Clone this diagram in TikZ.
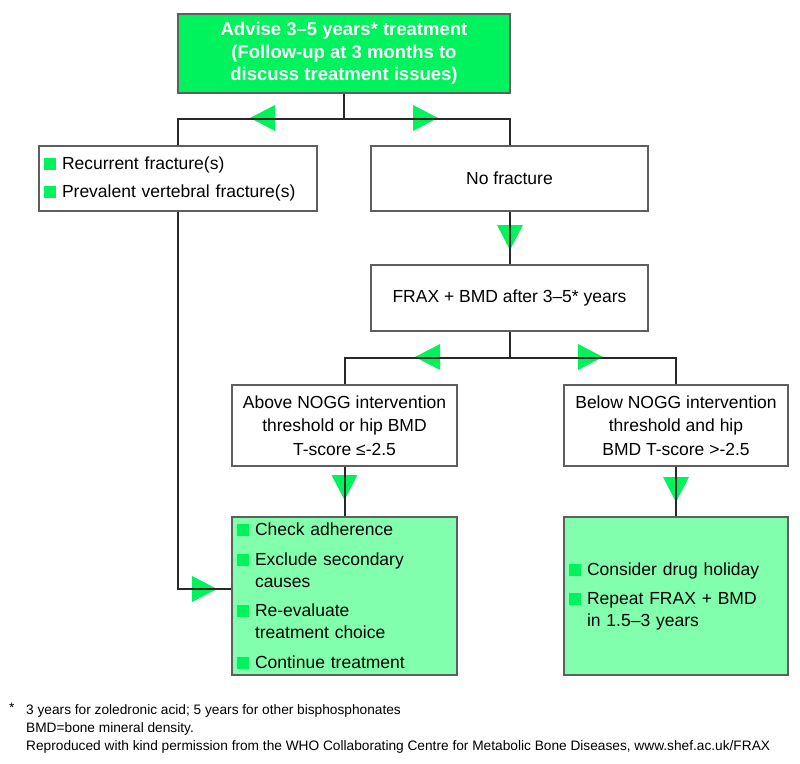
\documentclass[tikz,border=0pt]{standalone}
\usepackage{fontspec}
\setmainfont{Liberation Sans}
\usetikzlibrary{calc}
\definecolor{bgreen}{RGB}{0,242,92}
\definecolor{lgreen}{RGB}{130,255,172}
\definecolor{bordergray}{RGB}{95,95,95}
\definecolor{linegray}{RGB}{40,40,40}
\newcommand{\bsq}{\textcolor{bgreen}{\rule[-0.5pt]{12pt}{12pt}}\hspace{6pt}}
\newcommand{\bind}{\hspace*{18pt}}
\begin{document}
\begin{tikzpicture}[x=1pt,y=-1pt,
  box/.style={draw=bordergray, line width=1.2pt, fill=white, inner sep=0pt, font=\fontsize{17.5}{23.5}\selectfont, align=center},
  topbox/.style={box, fill=bgreen, text=white, font=\fontsize{18.5}{22.5}\selectfont\bfseries},
  listbox/.style={box, align=left, inner xsep=5pt, inner ysep=0pt, font=\fontsize{17.5}{22}\selectfont},
  actbox/.style={listbox, fill=lgreen},
  conn/.style={draw=linegray, line width=2pt},
  tri/.style={fill=bgreen, draw=none},
  foot/.style={inner sep=0pt, anchor=base west, font=\fontsize{13.7}{15}\selectfont}]
\useasboundingbox (0,0) rectangle (800,763);
% boxes
\node[topbox, minimum width=332pt, minimum height=79pt] (top) at (344,53.5)
  {Advise 3–5 years* treatment\\(Follow-up at 3 months to\\discuss treatment issues)};
\node[listbox, text width=268pt, minimum height=65pt] (recur) at (178,178.5)
  {\bsq Recurrent fracture(s)\\[6pt]\bsq Prevalent vertebral fracture(s)};
\node[box, minimum width=277pt, minimum height=65pt] (nofrac) at (509.5,178.5) {No fracture};
\node[box, minimum width=277pt, minimum height=66pt] (frax) at (509.5,298) {FRAX + BMD after 3–5* years};
\node[box, minimum width=225pt, minimum height=81pt] (above) at (344.5,425.5)
  {Above NOGG intervention\\threshold or hip BMD\\T-score ≤-2.5};
\node[box, minimum width=224pt, minimum height=81pt] (below) at (676,425.5)
  {Below NOGG intervention\\threshold and hip\\BMD T-score >-2.5};
\node[actbox, text width=215pt, minimum height=158pt] (act) at (344.5,596)
  {\bsq Check adherence\\[7.5pt]\bsq Exclude secondary\\\bind causes\\[7.5pt]\bsq Re-evaluate\\\bind treatment choice\\[7.5pt]\bsq Continue treatment};
\node[actbox, text width=214pt, minimum height=158pt] (hol) at (676,596)
  {\bsq Consider drug holiday\\[7pt]\bsq Repeat FRAX + BMD\\\bind in 1.5–3 years};
% arrowheads (drawn under the connectors)
\fill[tri] (250,118) -- (275,105) -- (275,131) -- cycle;
\fill[tri] (438,118) -- (413,105) -- (413,131) -- cycle;
\fill[tri] (510,250) -- (497,225) -- (523,225) -- cycle;
\fill[tri] (415,357) -- (440,344) -- (440,370) -- cycle;
\fill[tri] (603,357) -- (578,344) -- (578,370) -- cycle;
\fill[tri] (344.5,500) -- (331.5,475) -- (357.5,475) -- cycle;
\fill[tri] (676,502) -- (663,477) -- (689,477) -- cycle;
\fill[tri] (217,589) -- (192,576) -- (192,602) -- cycle;
% connectors
\coordinate (j1) at ($(top.south)+(0,25)$);
\coordinate (j2) at ($(frax.south)+(0,26)$);
\draw[conn] (top.south) -- (j1);
\draw[conn] (recur.north) |- (j1) -| (nofrac.north);
\draw[conn] (nofrac) -- (frax);
\draw[conn] (frax.south) -- (j2);
\draw[conn] (above.north) |- (j2) -| (below.north);
\draw[conn] (above) -- (act);
\draw[conn] (below) -- (hol);
\draw[conn] (recur.south) |- ([yshift=7pt]act.west);
% footnote
\node[foot] (fstar) at (9,712) {*};
\node[foot] (f1) at (26,714) {3 years for zoledronic acid; 5 years for other bisphosphonates};
\node[foot] (f2) at (26,732) {BMD=bone mineral density.};
\node[foot] (f3) at (26,750) {Reproduced with kind permission from the WHO Collaborating Centre for Metabolic Bone Diseases, www.shef.ac.uk/FRAX};
\end{tikzpicture}
\end{document}
